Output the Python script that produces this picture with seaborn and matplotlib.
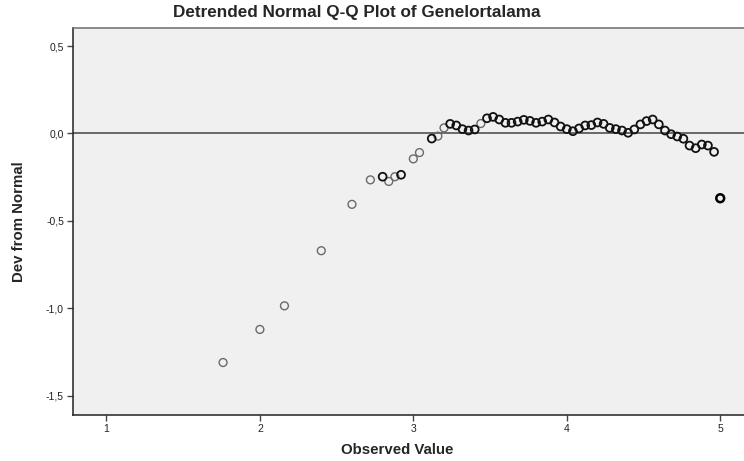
import matplotlib
matplotlib.use("Agg")
import matplotlib.pyplot as plt
import matplotlib.ticker as mticker
import pandas as pd
import seaborn as sns

observed = [1.76, 2.00, 2.16, 2.40, 2.60, 2.72, 2.80, 2.84, 2.88, 2.92,
            3.00, 3.04, 3.12, 3.16, 3.20, 3.24, 3.28, 3.32, 3.36, 3.40,
            3.44, 3.48, 3.52, 3.56, 3.60, 3.64, 3.68, 3.72, 3.76, 3.80,
            3.84, 3.88, 3.92, 3.96, 4.00, 4.04, 4.08, 4.12, 4.16, 4.20,
            4.24, 4.28, 4.32, 4.36, 4.40, 4.44, 4.48, 4.52, 4.56, 4.60,
            4.64, 4.68, 4.72, 4.76, 4.80, 4.84, 4.88, 4.92, 4.96, 5.00]
deviation = [-1.309, -1.120, -0.985, -0.670, -0.405, -0.265, -0.247, -0.274, -0.247, -0.236,
             -0.145, -0.109, -0.029, -0.015, 0.032, 0.055, 0.046, 0.025, 0.017, 0.023,
             0.057, 0.087, 0.095, 0.080, 0.061, 0.061, 0.068, 0.078, 0.072, 0.061,
             0.068, 0.080, 0.063, 0.040, 0.025, 0.013, 0.029, 0.046, 0.048, 0.063,
             0.055, 0.032, 0.025, 0.017, 0.004, 0.023, 0.052, 0.071, 0.080, 0.052,
             0.017, -0.004, -0.017, -0.030, -0.069, -0.084, -0.063, -0.069, -0.105, -0.370]
# 1 = single case (drawn lighter), 2 = several cases at that value
cases = [1, 1, 1, 1, 1, 1, 2, 1, 1, 2,
         1, 1, 2, 1, 1, 2, 2, 2, 2, 2,
         1, 2, 2, 2, 2, 2, 2, 2, 2, 2,
         2, 2, 2, 2, 2, 2, 2, 2, 2, 2,
         2, 2, 2, 2, 2, 2, 2, 2, 2, 2,
         2, 2, 2, 2, 2, 2, 2, 2, 2, 3]
x_ticks = [1, 2, 3, 4, 5]
y_ticks = [0.5, 0.0, -0.5, -1.0, -1.5]

df = pd.DataFrame({"observed": observed, "deviation": deviation, "cases": cases})

sns.set_style("ticks")
plt.rcParams["font.family"] = ["Liberation Sans", "DejaVu Sans"]

fig = plt.figure(figsize=(7.44, 4.61), dpi=100)
ax = fig.add_axes([73 / 744, 46 / 461, 671 / 744, 387 / 461])
ax.set_facecolor("#f0f0f0")

ax.axhline(0, color="#444444", lw=1.1, zorder=1)

for n, col, lw in [(1, "#6a6a6a", 1.0), (2, "#111111", 1.3), (3, "#000000", 1.8)]:
    sub = df[df["cases"] == n]
    sns.scatterplot(data=sub, x="observed", y="deviation", ax=ax,
                    marker="o", s=32, facecolor="none", edgecolor=col,
                    linewidth=lw, zorder=3, legend=False)

ax.set_xlim(0.782, 5.155)
ax.set_ylim(-1.609, 0.603)
ax.set_xticks(x_ticks)
ax.set_yticks(y_ticks)
ax.xaxis.set_major_formatter(mticker.FuncFormatter(lambda v, p: f"{v:.0f}"))
ax.yaxis.set_major_formatter(mticker.FuncFormatter(lambda v, p: f"{v:.1f}".replace(".", ",")))
ax.tick_params(axis="both", direction="out", length=4.5, width=1, colors="#444444",
               labelsize=7.5, labelcolor="#222222", pad=2)

for side in ["left", "bottom"]:
    ax.spines[side].set_color("#222222")
    ax.spines[side].set_linewidth(1.1)
ax.spines["top"].set_visible(True)
ax.spines["top"].set_color("#6e6e6e")
ax.spines["top"].set_linewidth(1.1)
ax.spines["right"].set_visible(False)

ax.set_xlabel("")
ax.set_ylabel("")
fig.text(357 / 744, 1 - 13 / 461, "Detrended Normal Q-Q Plot of Genelortalama",
         ha="center", va="center", fontsize=12.3, fontweight="bold")
fig.text(397 / 744, 1 - 450 / 461, "Observed Value",
         ha="center", va="center", fontsize=10.8, fontweight="bold")
fig.text(19 / 744, 1 - 222 / 461, "Dev from Normal", rotation=90,
         ha="center", va="center", fontsize=10.8, fontweight="bold")

fig.savefig("out.png", dpi=100)
plt.close(fig)
